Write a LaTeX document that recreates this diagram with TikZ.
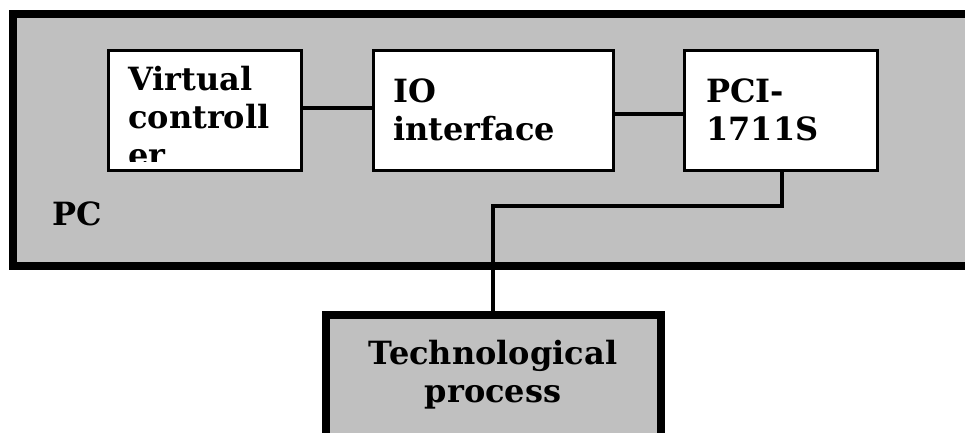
\documentclass[tikz,border=0pt]{standalone}
\usepackage{fontspec}
\setmainfont{DejaVu Serif}
\definecolor{panelgrey}{HTML}{C0C0C0}
\tikzset{
  unit/.style={draw=black, line width=3pt, fill=white, inner sep=0pt, outer sep=0pt, anchor=north west},
  frame/.style={draw=black, line width=8pt, fill=panelgrey},
  label/.style={font=\bfseries\fontsize{32}{38}\selectfont, inner sep=0pt, anchor=base west, align=left},
  wire/.style={draw=black, line width=3.5pt}
}
\begin{document}
\begin{tikzpicture}[x=1pt, y=-1pt]
  \useasboundingbox (0,0) rectangle (965,432);
  \clip (0,0) rectangle (965,432);

  % PC enclosure, running off the right edge
  \draw[frame] (13,14) rectangle (985,266);
  \node[label] (pc) at (52,225) {PC};

  % units inside the PC
  \node[unit, minimum width=193pt, minimum height=120pt] (vc) at (108.5,50.5) {};
  \node[unit, minimum width=240pt, minimum height=120pt] (io) at (373.5,50.5) {};
  \node[unit, minimum width=193pt, minimum height=120pt] (pci) at (684.5,50.5) {};

  % multi-line labels are anchored at the baseline of their last line
  \begin{scope}
    \clip (110,52) rectangle (300,161);
    \node[label] (vctext) at (128,166) {Virtual\\controll\\er};
  \end{scope}
  \node[label] (iotext) at (393,140) {IO\\interface};
  \node[label] (pcitext) at (706,140) {PCI-\\1711S};

  % technological process block
  \draw[frame] (325.5,315) rectangle (661,460);
  \coordinate (tech) at (493,315);
  \node[label, anchor=base, align=center] (techtext) at (493,402) {Technological\\process};

  % wiring
  \coordinate (row1) at (0,108);
  \coordinate (row2) at (0,114);
  \draw[wire] (vc.east |- row1) -- (io.west |- row1);
  \draw[wire] (io.east |- row2) -- (pci.west |- row2);
  \draw[wire] (pci.south -| 782,0) -- (782,206) -| (tech);
\end{tikzpicture}
\end{document}
